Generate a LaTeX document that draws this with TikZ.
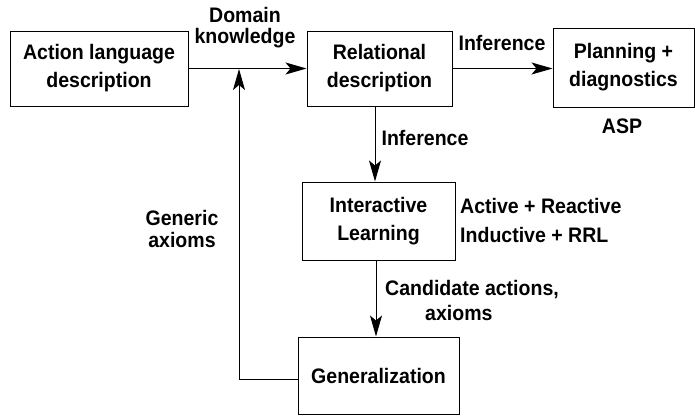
\documentclass[tikz,border=0pt]{standalone}
\usepackage{fontspec}
\setmainfont{Liberation Sans}[FakeStretch=0.93]
\usetikzlibrary{arrows.meta}
\begin{document}
\begin{tikzpicture}[x=1pt,y=-1pt,
  font=\bfseries\fontsize{21}{28}\selectfont,
  box/.style={draw, line width=1pt, rectangle, inner sep=0pt, align=center},
  lbl/.style={inner sep=0pt, align=center},
  arr/.style={line width=1pt, -{Stealth[length=21pt,width=12pt,inset=5pt]}}]
\useasboundingbox (0,0) rectangle (695,415);
% boxes
\node[box, minimum width=178pt, minimum height=75pt] (A) at (99,68.5) {Action language\\description};
\node[box, minimum width=145pt, minimum height=75pt] (R) at (379.5,68.5) {Relational\\description};
\node[box, minimum width=141pt, minimum height=79pt] (P) at (623.5,67.5) {Planning +\\diagnostics};
\node[box, minimum width=153pt, minimum height=78pt] (IL) at (378.5,221) {Interactive\\Learning};
\node[box, minimum width=161pt, minimum height=77pt] (G) at (378.5,375.5) {Generalization};
\coordinate (J) at (239,69);
% connectors
\draw[arr] (A) -- (R);
\draw[arr] (R.east |- 0,68.5) -- (P.west |- 0,68.5);
\draw[arr] ([xshift=-4.5pt]R.south) -- ([xshift=-3.5pt]IL.north);
\draw[arr] ([xshift=-2.5pt]IL.south) -- ([xshift=-2.5pt]G.north);
\draw[arr] ([yshift=-3.5pt]G.west) -| (J);
% labels
\node[lbl, font=\bfseries\fontsize{21}{21}\selectfont] (dk) at (245,27.5) {Domain\\knowledge};
\node[lbl, anchor=base] (inf1) at (502,50) {Inference};
\node[lbl, anchor=base] (asp) at (622,133) {ASP};
\node[lbl, anchor=base] (inf2) at (425,145) {Inference};
\node[lbl, align=left, anchor=west, font=\bfseries\fontsize{21}{29}\selectfont] (ar) at (460,220.5) {Active + Reactive\\Inductive + RRL};
\node[lbl, align=left, anchor=west, font=\bfseries\fontsize{21}{25}\selectfont] (ca) at (385,300.5) {Candidate actions,\\\hspace*{40pt}axioms};
\node[lbl, font=\bfseries\fontsize{21}{22}\selectfont] (ga) at (182,229) {Generic\\axioms};
\end{tikzpicture}
\end{document}
